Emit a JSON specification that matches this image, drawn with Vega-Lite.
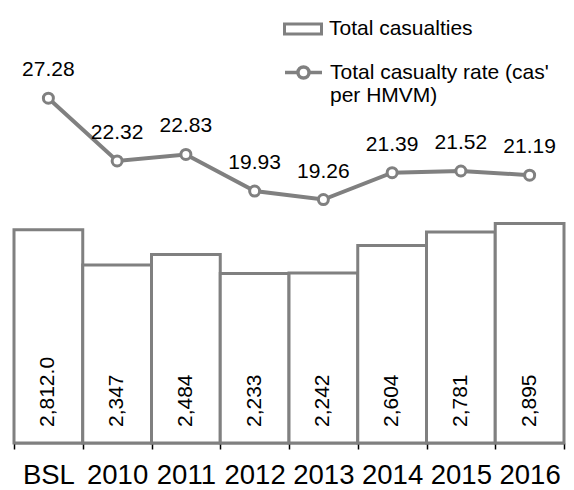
{
  "$schema": "https://vega.github.io/schema/vega-lite/v6.json",
  "autosize": {"type": "none"},
  "width": 550,
  "height": 443,
  "padding": {"left": 14, "top": 0, "right": 10, "bottom": 47},
  "background": "white",
  "config": {
    "view": {"stroke": null},
    "font": "Liberation Sans",
    "text": {"font": "Liberation Sans"},
    "axis": {"labelFont": "Liberation Sans"},
    "legend": {"labelFont": "Liberation Sans"}
  },
  "data": {
    "values": [
      {"cat": "BSL", "casualties": 2812.0, "casLabel": "2,812.0", "rate": 27.28},
      {"cat": "2010", "casualties": 2347, "casLabel": "2,347", "rate": 22.32},
      {"cat": "2011", "casualties": 2484, "casLabel": "2,484", "rate": 22.83},
      {"cat": "2012", "casualties": 2233, "casLabel": "2,233", "rate": 19.93},
      {"cat": "2013", "casualties": 2242, "casLabel": "2,242", "rate": 19.26},
      {"cat": "2014", "casualties": 2604, "casLabel": "2,604", "rate": 21.39},
      {"cat": "2015", "casualties": 2781, "casLabel": "2,781", "rate": 21.52},
      {"cat": "2016", "casualties": 2895, "casLabel": "2,895", "rate": 21.19}
    ]
  },
  "encoding": {
    "x": {
      "field": "cat",
      "type": "nominal",
      "sort": null,
      "scale": {"paddingInner": 0, "paddingOuter": 0},
      "axis": {
        "title": null,
        "labelAngle": 0,
        "labelFontSize": 27.5,
        "labelColor": "#000000",
        "domainColor": "#000000",
        "domainWidth": 1.5,
        "tickColor": "#000000",
        "tickWidth": 1.5,
        "tickSize": 6,
        "tickBand": "extent",
        "labelPadding": 12
      }
    }
  },
  "layer": [
    {
      "encoding": {
        "y": {"type": "quantitative", "scale": {"domain": [0, 5840], "nice": false}, "axis": null}
      },
      "layer": [
        {
          "mark": {"type": "bar", "fill": "white", "strokeWidth": 3},
          "encoding": {
            "y": {"field": "casualties", "type": "quantitative"},
            "stroke": {
              "datum": "Total casualties",
              "scale": {"range": ["#808080"]},
              "legend": {
                "orient": "none",
                "legendX": 269,
                "legendY": 9,
                "title": null,
                "padding": 0,
                "symbolType": "M-1,-0.27H1V0.27H-1Z",
                "symbolSize": 1369,
                "symbolFillColor": "white",
                "symbolStrokeColor": "#808080",
                "symbolStrokeWidth": 3,
                "labelFontSize": 21,
                "labelColor": "#000000",
                "labelOffset": 6,
                "labelLimit": 300
              }
            }
          }
        },
        {
          "mark": {"type": "text", "angle": 270, "align": "left", "baseline": "middle", "dx": 16, "fontSize": 21, "color": "#000000"},
          "encoding": {
            "y": {"datum": 0, "type": "quantitative"},
            "text": {"field": "casLabel"}
          }
        }
      ]
    },
    {
      "encoding": {
        "y": {"type": "quantitative", "scale": {"domain": [0, 35.05], "nice": false}, "axis": null}
      },
      "layer": [
        {
          "mark": {
            "type": "line",
            "strokeWidth": 4,
            "point": {"filled": false, "fill": "white", "stroke": "#808080", "strokeWidth": 3, "size": 100}
          },
          "encoding": {
            "y": {"field": "rate", "type": "quantitative"},
            "color": {
              "datum": "Total casualty rate (cas' per HMVM)",
              "scale": {"range": ["#808080"]},
              "legend": {
                "orient": "none",
                "legendX": 269,
                "legendY": 52,
                "title": null,
                "padding": 0,
                "symbolType": "M-1,0H-0.3M0.3,0H1M0.3,0A0.3,0.3 0 1,1 -0.3,0A0.3,0.3 0 1,1 0.3,0Z",
                "symbolSize": 1369,
                "symbolFillColor": "white",
                "symbolStrokeColor": "#808080",
                "symbolStrokeWidth": 3.5,
                "labelFontSize": 21,
                "labelColor": "#000000",
                "labelOffset": 6,
                "labelLimit": 300,
                "labelExpr": "[\"Total casualty rate (cas'\", \"per HMVM)\"]"
              }
            }
          }
        },
        {
          "mark": {"type": "text", "baseline": "alphabetic", "dy": -22, "fontSize": 21, "color": "#000000"},
          "encoding": {
            "y": {"field": "rate", "type": "quantitative"},
            "text": {"field": "rate", "format": ".2f"}
          }
        }
      ]
    }
  ],
  "resolve": {"scale": {"y": "independent"}, "legend": {"color": "independent", "stroke": "independent"}}
}
